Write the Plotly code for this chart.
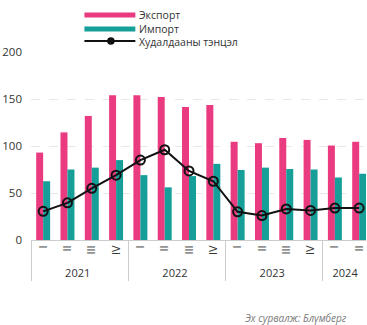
import plotly.graph_objects as go

# Quarterly trade figures
years = ["2021"] * 4 + ["2022"] * 4 + ["2023"] * 4 + ["2024"] * 2
quarters = ["I", "II", "III", "IV"] * 3 + ["I", "II"]
export = [93, 114.5, 132, 154, 154, 152, 141.5, 143.5, 104.5, 103, 108.5, 106.5, 100.5, 104.5]
imports = [62.5, 75, 77, 85, 69, 56, 68, 81, 74.5, 77, 75.5, 75, 66.5, 70.5]
balance = [30.5, 39.5, 55, 69, 85, 96, 73.5, 62.5, 30, 26, 33, 31.5, 34, 34]
series_names = ["Экспорт", "Импорт", "Худалдааны тэнцэл"]

PINK = "#EA3A80"
TEAL = "#169E98"
FONT = "Open Sans, Lato, sans-serif"
TXT = "#333333"

W, H = 367, 325
L, R, T, B = 30.5, 1, 52, 85
PW, PH = W - L - R, H - T - B


def px(x):
    return (x - L) / PW


def py(y):
    return (H - B - y) / PH


fig = go.Figure()
fig.add_trace(go.Bar(x=[years, quarters], y=export, name=series_names[0],
                     marker=dict(color=PINK, line=dict(width=0))))
fig.add_trace(go.Bar(x=[years, quarters], y=imports, name=series_names[1],
                     marker=dict(color=TEAL, line=dict(width=0))))
fig.add_trace(go.Scatter(x=[years, quarters], y=balance, name=series_names[2],
                         mode="lines+markers",
                         line=dict(color="#111111", width=2),
                         marker=dict(symbol="circle-open", size=9,
                                     line=dict(color="#111111", width=2))))

# Legend drawn as swatches + one stacked label block above the plot
shapes = [
    dict(type="rect", xref="paper", yref="paper", x0=px(84), x1=px(135),
         y0=py(17.5), y1=py(12.5), fillcolor=PINK, line=dict(width=0)),
    dict(type="rect", xref="paper", yref="paper", x0=px(84), x1=px(135),
         y0=py(31.5), y1=py(26.5), fillcolor=TEAL, line=dict(width=0)),
    dict(type="line", xref="paper", yref="paper", x0=px(84), x1=px(135),
         y0=py(41), y1=py(41), line=dict(color="#111111", width=2)),
    dict(type="circle", xref="paper", yref="paper", x0=px(107.5), x1=px(113.5),
         y0=py(44), y1=py(38), fillcolor="#111111", line=dict(color="#111111", width=1.5)),
]
annotations = [
    dict(text="<br>".join(series_names), xref="paper", yref="paper",
         x=px(138), y=py(28.5), xanchor="left", yanchor="middle", align="left",
         showarrow=False, borderpad=0,
         font=dict(family=FONT, size=10.5, color=TXT)),
    dict(text="<i>Эх сурвалж: Блүмберг</i>", xref="paper", yref="paper",
         x=px(349), y=py(318), xanchor="right", yanchor="middle",
         showarrow=False, font=dict(family=FONT, size=10, color="#7a7a7a")),
]

fig.update_layout(
    width=W, height=H,
    margin=dict(l=L, r=R, t=T, b=B, pad=0),
    paper_bgcolor="white", plot_bgcolor="white",
    barmode="group", bargap=0.425, bargroupgap=0,
    showlegend=False,
    font=dict(family=FONT, color=TXT, size=11),
    shapes=shapes, annotations=annotations,
)
fig.update_xaxes(type="multicategory", range=[-0.5, 13.28],
                 tickangle=-90, tickfont=dict(size=11, color=TXT),
                 showline=True, linecolor="#cccccc", linewidth=1,
                 showdividers=True, dividercolor="#cccccc", dividerwidth=1,
                 ticks="", showgrid=False)
fig.update_yaxes(range=[0, 200], tickvals=[0, 50, 100, 150, 200],
                 showgrid=True, gridcolor="#e8e8e8", griddash="dash", gridwidth=1,
                 zeroline=False, showline=False, ticks="",
                 ticklabelstandoff=8, tickfont=dict(size=11.5, color=TXT))

fig.write_html("out.html")
